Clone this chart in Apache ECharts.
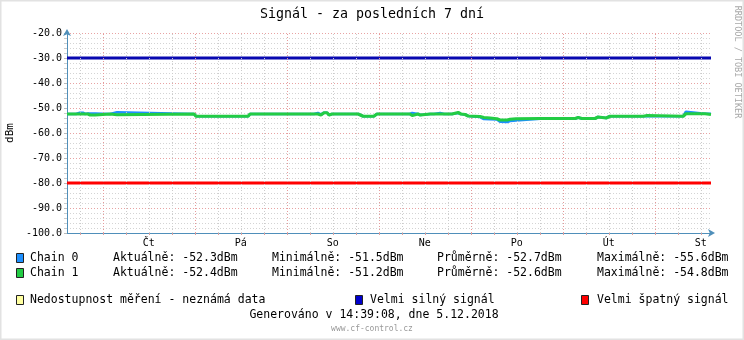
<!DOCTYPE html>
<html>
<head>
<meta charset="utf-8">
<script src="https://cdn.jsdelivr.net/npm/echarts@6/dist/echarts.min.js"></script>
<style>html,body{margin:0;padding:0;background:#fff;}#c{width:744px;height:340px;}</style>
</head>
<body>
<div id="c"></div>
<script>
// ---- data (hours since Wed 28.11.2018 00:00) ----
const times  = [14.65,17.0,17.5,18.0,18.8,19.4,20.1,20.7,22.0,22.5,25.9,26.4,27.7,28.2,47.8,48.3,61.9,62.4,79.1,79.6,80.1,80.9,81.4,81.7,82.5,83.0,83.8,85.9,86.4,86.9,90.6,91.1,91.9,94.7,95.5,101.0,101.5,102.1,104.1,104.7,105.2,106.2,106.8,107.3,109.4,109.9,110.4,112.0,112.5,113.0,115.1,115.6,116.7,117.4,118.5,119.3,122.4,123.4,125.0,126.8,127.6,129.5,130.2,131.8,132.3,138.1,138.6,139.6,147.2,148.0,149.0,152.4,153.2,153.7,155.3,156.3,165.0,166.0,175.4,176.1,176.6,181.1,181.6,182.65];
const chain0 = [-52.4,-52.4,-53.1,-51.9,-51.9,-52.4,-52.2,-52.2,-52.2,-52.4,-52.4,-51.7,-51.7,-52.4,-52.4,-53.3,-53.3,-52.4,-52.4,-52.0,-52.0,-52.6,-52.4,-51.9,-51.9,-52.8,-52.4,-52.4,-52.0,-52.4,-52.4,-52.8,-53.3,-53.3,-52.4,-52.4,-52.0,-52.4,-52.4,-52.0,-52.4,-52.4,-52.8,-52.4,-52.4,-52.0,-52.4,-52.0,-52.0,-52.4,-52.4,-51.8,-52.0,-52.4,-52.6,-53.2,-53.6,-54.4,-54.5,-54.6,-55.5,-55.6,-55.2,-55.0,-54.4,-54.3,-54.0,-54.3,-54.3,-53.8,-54.3,-54.2,-53.6,-54.0,-54.0,-53.3,-53.3,-53.3,-53.3,-51.5,-52.3,-52.3,-52.3,-52.3];
const chain1 = [-52.4,-52.4,-53.1,-52.4,-52.4,-52.4,-52.4,-52.8,-52.8,-52.4,-52.4,-52.7,-52.7,-52.4,-52.4,-53.3,-53.3,-52.4,-52.4,-52.0,-52.4,-52.8,-52.4,-51.9,-51.9,-52.8,-52.4,-52.4,-52.8,-52.4,-52.4,-52.8,-53.3,-53.3,-52.4,-52.4,-52.0,-52.4,-52.4,-53.0,-52.4,-52.4,-52.8,-52.4,-52.4,-52.8,-52.4,-52.4,-52.4,-52.4,-52.4,-51.8,-51.8,-52.4,-52.6,-53.2,-53.4,-53.8,-54.0,-54.3,-54.8,-54.8,-54.5,-54.3,-54.2,-54.2,-54.0,-54.2,-54.2,-53.8,-54.2,-54.2,-53.6,-54.0,-54.0,-53.3,-53.3,-53.0,-53.3,-52.3,-52.3,-52.3,-52.6,-52.6];
const strongLevel = -30;
const weakLevel = -80;
const tStart = 14.65, tEnd = 182.65;
const dayLabels = ['Čt','Pá','So','Ne','Po','Út','St'];
const dayLabelHours = [36,60,84,108,132,156,180];
const yMin = -100, yMax = -20, yStep = 10;

const chainNames = ['Chain 0','Chain 1'];
const statCur = ['Aktuálně: -52.3dBm','Aktuálně: -52.4dBm'];
const statMin = ['Minimálně: -51.5dBm','Minimálně: -51.2dBm'];
const statAvg = ['Průměrně: -52.7dBm','Průměrně: -52.6dBm'];
const statMax = ['Maximálně: -55.6dBm','Maximálně: -54.8dBm'];

const C0 = '#1e90ff', C1 = '#22cc44', CSTRONG = '#0808b0', CWEAK = '#ff0000';
const MONO = '"DejaVu Sans Mono", monospace';

// grid line positions (every 6 h, major at midnight)
const gridHours = [];
for (let h = 18; h < tEnd; h += 6) gridHours.push(h);
const gridLines = gridHours.map(h => ({
  xAxis: h,
  lineStyle: h % 24 === 0
    ? {color:'#e59a9a', type:[1,2], width:1}
    : {color:'#cccccc', type:[1,2], width:1}
}));

const zip = (t, v) => t.map((x, i) => [x, v[i]]);

function txt(x, y, s, opt) {
  opt = opt || {};
  return {type:'text', x:x, y:y, silent:true, rotation: opt.rot || 0, z: 10,
    style:{text:s, font:(opt.size||11.5)+'px '+MONO, fill:opt.color||'#000',
      textAlign:opt.align||'left', textVerticalAlign:'middle',
      align:opt.align||'left', verticalAlign:'middle'}};
}
function box(x, y, fill) {
  return {type:'rect', shape:{x:x, y:y, width:7, height:9}, silent:true, z:10,
    style:{fill:fill, stroke:'#222', lineWidth:1}};
}

const graphics = [
  {type:'rect', shape:{x:0.5,y:0.5,width:743,height:339}, silent:true, z:0,
   style:{fill:'none', stroke:'#e2e2e2', lineWidth:2}},
  txt(10, 133, 'dBm', {size:11, align:'center', rot:Math.PI/2}),
  txt(737, 62, 'RRDTOOL / TOBI OETIKER', {size:8.5, align:'center', rot:-Math.PI/2, color:'#a8a8a8'}),
];
[0,1].forEach(i => {
  const y = 258 + i*15;
  graphics.push(box(16.5, y-4.5, i===0?C0:C1));
  graphics.push(txt(30, y, chainNames[i]));
  graphics.push(txt(113, y, statCur[i]));
  graphics.push(txt(272, y, statMin[i]));
  graphics.push(txt(437, y, statAvg[i]));
  graphics.push(txt(597, y, statMax[i]));
});
graphics.push(box(16.5, 295.5, '#ffffa0'));
graphics.push(txt(30, 300, 'Nedostupnost měření - neznámá data'));
graphics.push(box(355.5, 295.5, '#0000cc'));
graphics.push(txt(370, 300, 'Velmi silný signál'));
graphics.push(box(581.5, 295.5, CWEAK));
graphics.push(txt(597, 300, 'Velmi špatný signál'));
graphics.push(txt(374, 315, 'Generováno v 14:39:08, dne 5.12.2018', {align:'center'}));
graphics.push(txt(372, 329, 'www.cf-control.cz', {size:8, align:'center', color:'#999'}));

const chart = echarts.init(document.getElementById('c'), null, {renderer:'canvas'});
chart.setOption({
  animation:false,
  backgroundColor:'#fff',
  title:{text:'Signál - za posledních 7 dní', left:'center', top:3,
    textStyle:{fontFamily:MONO, fontSize:13.3, fontWeight:'normal', color:'#000'}},
  grid:{left:67, right:33, top:33, bottom:107, containLabel:false},
  xAxis:{type:'value', min:tStart, max:tEnd,
    axisLine:{show:true, onZero:false, lineStyle:{color:'#4f8fba', width:1},
      symbol:['none','arrow'], symbolSize:[6,7], symbolOffset:[0,4]},
    axisTick:{show:true, customValues:gridHours, length:2, lineStyle:{color:'#d9a0a0'}},
    axisLabel:{customValues:dayLabelHours, margin:5, fontFamily:MONO, fontSize:10, color:'#000',
      formatter:v => dayLabels[dayLabelHours.indexOf(v)] || ''},
    splitLine:{show:false}},
  yAxis:{type:'value', min:yMin, max:yMax, interval:yStep,
    axisLine:{show:true, onZero:false, lineStyle:{color:'#4f8fba', width:1},
      symbol:['none','arrow'], symbolSize:[6,7], symbolOffset:[0,4]},
    axisTick:{show:true, length:3, lineStyle:{color:'#bbb'}},
    minorTick:{show:true, splitNumber:5, length:3, lineStyle:{color:'#ccc'}},
    axisLabel:{margin:5, fontFamily:MONO, fontSize:10, color:'#000', formatter:v => v.toFixed(1)},
    splitLine:{show:true, lineStyle:{color:'#e8a3a3', type:[1,2], width:1}},
    minorSplitLine:{show:true, lineStyle:{color:'#d4d4d4', type:[1,2], width:1}}},
  graphic:graphics,
  series:[
    {type:'line', data:[], z:1, silent:true,
     markLine:{silent:true, symbol:['none','none'], label:{show:false}, animation:false, data:gridLines}},
    {type:'line', name:'strong', data:[[tStart,strongLevel],[tEnd,strongLevel]], z:3, silent:true,
     symbol:'none', lineStyle:{color:CSTRONG, width:3}},
    {type:'line', name:'weak', data:[[tStart,weakLevel],[tEnd,weakLevel]], z:3, silent:true,
     symbol:'none', lineStyle:{color:CWEAK, width:3}},
    {type:'line', name:'Chain 0', data:zip(times, chain0), z:4, silent:true,
     symbol:'none', lineStyle:{color:C0, width:2.6}},
    {type:'line', name:'Chain 1', data:zip(times, chain1), z:5, silent:true,
     symbol:'none', lineStyle:{color:C1, width:3.2}}
  ]
});
</script>
</body>
</html>
